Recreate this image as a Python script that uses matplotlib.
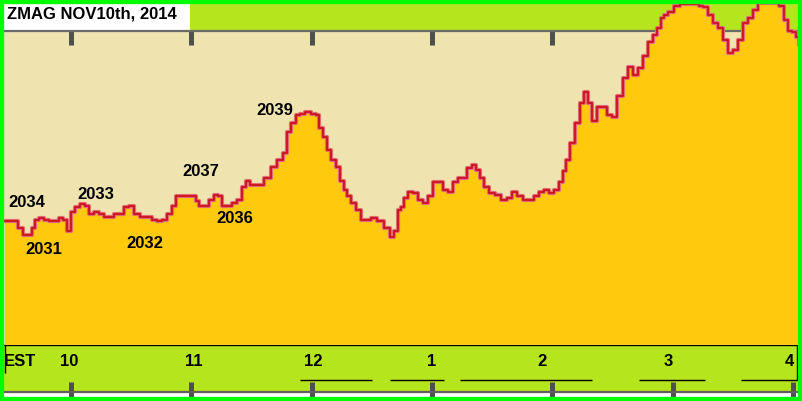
import matplotlib.pyplot as plt
from matplotlib.patches import Rectangle

# ZMAG intraday, minutes after 9:30 EST and price level (as the chart labels it)
minutes = [-3, 0, 2, 5, 7, 10, 11, 13, 15, 18, 20, 23, 25, 27, 29, 31, 33, 36, 38, 40,
           43, 45, 48, 50, 53, 55, 58, 60, 63, 66, 69, 72, 74, 77, 79, 82, 83, 86, 89, 92,
           93, 95, 98, 100, 103, 104, 107, 109, 112, 114, 117, 118, 121, 124, 128, 131, 134, 137, 138, 141,
           143, 145, 148, 151, 153, 154, 157, 158, 161, 163, 165, 167, 168, 171, 173, 176, 178, 181, 184, 188,
           190, 192, 194, 195, 197, 199, 202, 204, 207, 209, 212, 214, 217, 219, 222, 224, 226, 229, 231, 233,
           235, 237, 240, 243, 246, 249, 251, 254, 257, 260, 262, 265, 267, 270, 272, 275, 276, 278, 280, 283,
           285, 287, 289, 291, 294, 296, 299, 301, 304, 306, 309, 311, 314, 316, 319, 321, 323, 325, 326, 329,
           332, 335, 337, 340, 342, 344, 346, 349, 351, 354, 356, 359, 361, 364, 366, 369, 371, 374, 377, 379,
           382, 384, 387, 388, 391, 392, 394]
price = [2032.0, 2032.0, 2032.0, 2031.6, 2031.1, 2031.1, 2031.6, 2032.1, 2032.2, 2032.1,
         2032.0, 2032.0, 2032.2, 2032.1, 2031.4, 2032.6, 2032.9, 2033.1, 2033.0, 2032.5,
         2032.6, 2032.5, 2032.3, 2032.3, 2032.5, 2032.5, 2032.9, 2033.0, 2032.5, 2032.3,
         2032.3, 2032.1, 2032.0, 2032.1, 2032.5, 2033.0, 2033.6, 2033.6, 2033.6, 2033.6,
         2033.3, 2033.0, 2033.0, 2033.4, 2033.7, 2033.6, 2033.0, 2033.0, 2033.2, 2033.4,
         2034.2, 2034.6, 2034.3, 2034.3, 2034.8, 2035.5, 2035.9, 2036.4, 2037.7, 2038.3,
         2038.8, 2038.9, 2039.0, 2038.9, 2038.8, 2038.0, 2037.4, 2036.6, 2035.9, 2035.5,
         2034.6, 2034.0, 2033.6, 2033.2, 2032.7, 2032.1, 2032.1, 2032.2, 2032.0, 2031.6,
         2031.0, 2031.4, 2032.7, 2032.9, 2033.5, 2033.9, 2033.8, 2033.4, 2033.2, 2033.6,
         2034.5, 2034.5, 2034.0, 2033.9, 2034.5, 2034.8, 2034.8, 2035.4, 2035.6, 2035.3,
         2034.8, 2034.2, 2033.8, 2033.7, 2033.4, 2033.5, 2033.9, 2033.6, 2033.4, 2033.4,
         2033.6, 2033.9, 2034.0, 2033.8, 2034.0, 2034.5, 2035.2, 2035.9, 2037.0, 2038.3,
         2039.6, 2040.3, 2039.6, 2038.4, 2039.3, 2039.3, 2038.8, 2038.7, 2040.0, 2041.2,
         2041.9, 2041.4, 2041.8, 2042.6, 2043.5, 2043.9, 2044.4, 2045.0, 2045.2, 2045.4,
         2045.8, 2045.9, 2045.9, 2045.9, 2045.9, 2045.8, 2045.7, 2045.2, 2044.7, 2044.4,
         2043.6, 2042.8, 2043.0, 2043.6, 2044.7, 2045.0, 2045.5, 2046.0, 2046.0, 2046.0,
         2046.0, 2045.8, 2044.9, 2044.2, 2044.1, 2043.8, 2043.3]

hour_ticks = [30, 90, 150, 210, 270, 330, 390]
hour_labels = ['10', '11', '12', '1', '2', '3', '4']
hour_label_pos = [29, 91, 151, 210, 265, 328, 388]

level_labels = ['2034', '2031', '2033', '2032', '2037', '2036', '2039']
level_t = [8, 16.5, 42.5, 67, 94.7, 111.8, 131.7]
level_y = [2033.2, 2030.2, 2033.75, 2030.6, 2035.2, 2032.2, 2039.1]

# little underline strokes in the time band (minutes)
under_start = [144, 189, 224, 313, 364]
under_end = [180, 216, 290, 346, 393]

LIME = '#b5e61d'
BEIGE = '#efe3b0'
GOLD = '#ffc90e'
GREEN = '#00ff00'
FONT = 'Liberation Sans'

W, H = 802, 401
T0, T1 = -3.4, 392.5
Y0, Y1 = 2024.09, 2045.98


def rect(x0, y0, x1, y1):
    return [x0 / W, 1 - y1 / H, (x1 - x0) / W, (y1 - y0) / H]


fig = plt.figure(figsize=(W / 100, H / 100), dpi=100, facecolor='white')

# lime strip at the top with the title box
ax_band = fig.add_axes(rect(4, 3, 798, 31), zorder=0)
ax_band.set_facecolor(LIME)
ax_band.set_xticks([])
ax_band.set_yticks([])
for s in ax_band.spines.values():
    s.set_visible(False)
ax_band.add_patch(Rectangle((0, 0), (190 - 4) / 794, 1, transform=ax_band.transAxes,
                            color='white', lw=0))
ax_band.text(3 / 794, 0.6, 'ZMAG NOV10th, 2014', transform=ax_band.transAxes,
             ha='left', va='center', fontsize=12, fontweight='bold', family=FONT)

# beige plot background with the grey hour rule on top
ax_back = fig.add_axes(rect(4, 31, 798, 345), zorder=0.5)
ax_back.set_facecolor(BEIGE)
ax_back.set_xlim(T0, T1)
ax_back.set_yticks([])
for k in ['left', 'right', 'bottom']:
    ax_back.spines[k].set_visible(False)
ax_back.spines['top'].set_color('#6a6a6a')
ax_back.spines['top'].set_linewidth(1.6)
ax_back.xaxis.tick_top()
ax_back.set_xticks(hour_ticks)
ax_back.tick_params(axis='x', direction='in', length=10, width=3.6, color='#505050',
                    labeltop=False, labelbottom=False)

# price area
ax = fig.add_axes(rect(4, 3, 798, 345), zorder=2)
ax.set_xlim(T0, T1)
ax.set_ylim(Y0, Y1)
ax.set_axis_off()
ax.fill_between(minutes, price, Y0, step='mid', color=GOLD, lw=0)
ax.plot(minutes, price, drawstyle='steps-mid', color='#e36a70', lw=3.0)
ax.plot(minutes, price, drawstyle='steps-mid', color='#c80c18', lw=1.2)
for s, t, y in zip(level_labels, level_t, level_y):
    ax.text(t, y, s, ha='center', va='center', fontsize=12, fontweight='bold', family=FONT)

# time band at the bottom
ax_bot = fig.add_axes(rect(4, 345, 798, 392), zorder=1)
ax_bot.set_facecolor(LIME)
ax_bot.set_xlim(T0, T1)
ax_bot.set_ylim(0, 1)
ax_bot.set_yticks([])
ax_bot.spines['left'].set_visible(False)
ax_bot.spines['right'].set_visible(False)
ax_bot.spines['top'].set_color('black')
ax_bot.spines['top'].set_linewidth(1.0)
ax_bot.spines['bottom'].set_color('#606060')
ax_bot.spines['bottom'].set_linewidth(1.6)
ax_bot.set_xticks(hour_ticks)
ax_bot.tick_params(axis='x', direction='inout', length=15, width=3.6, color='#505050',
                   labelbottom=False)
ax_bot.vlines([-2.9], 0.40, 1, color='black', lw=1.0)
ax_bot.vlines([392.0], 0.255, 1, color='black', lw=1.0)
ax_bot.hlines([0.255] * len(under_start), under_start, under_end, color='black', lw=1.0)
ax_bot.text(T0, 0.64, 'EST', ha='left', va='center', fontsize=12, fontweight='bold', family=FONT)
for s, t in zip(hour_labels, hour_label_pos):
    ax_bot.text(t, 0.64, s, ha='center', va='center', fontsize=12, fontweight='bold', family=FONT)

# bright green frame
fig.add_artist(Rectangle((0, 0), 1, 1, transform=fig.transFigure, fill=False,
                         edgecolor=GREEN, lw=6, zorder=10))

fig.savefig('out.png', dpi=100)
